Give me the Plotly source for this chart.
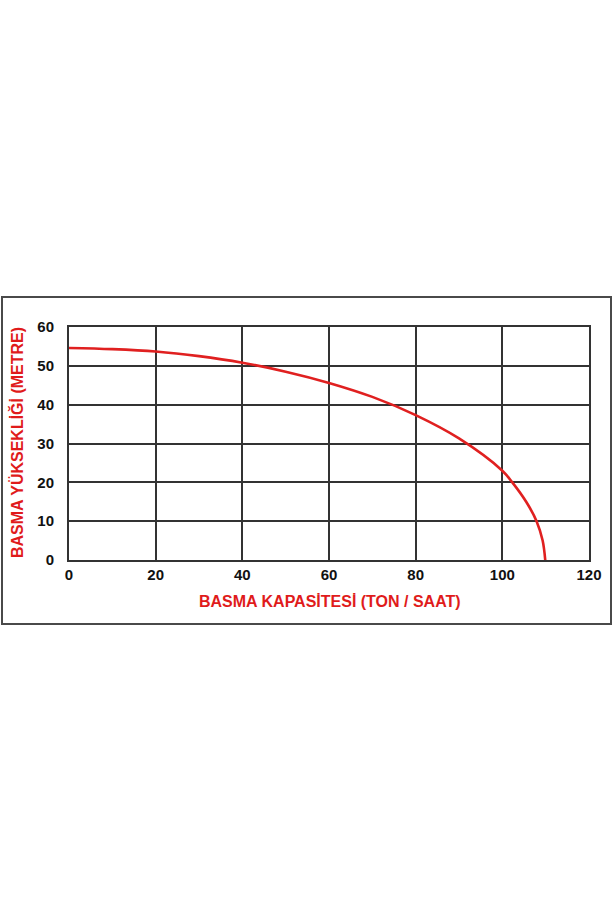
import plotly.graph_objects as go

# Pump curve data
flow = [0, 10, 20, 30, 40, 50, 60, 70, 80, 90, 100, 102.3, 105.5, 107.9, 109.3, 109.9]
head = [54.6, 54.3, 53.7, 52.5, 50.8, 48.5, 45.6, 42.0, 37.3, 31.3, 23.0, 20, 15, 10, 5, 0]

x_ticks = [0, 20, 40, 60, 80, 100, 120]
y_ticks = [0, 10, 20, 30, 40, 50, 60]

x_title = "BASMA KAPASİTESİ (TON / SAAT)"
y_title = "BASMA YÜKSEKLİĞİ (METRE)"

W, H = 613, 920
L, R, T, B = 69, 24, 327, 360
pw = W - L - R
ph = H - T - B

def px_x(px):
    return (px - L) / pw

def px_y(py):
    return (H - B - py) / ph

fig = go.Figure()
fig.add_trace(go.Scatter(
    x=flow, y=head, mode="lines",
    line=dict(color="#e02020", width=2.6, shape="spline", smoothing=1.0),
    hoverinfo="skip", showlegend=False,
))

font_family = "Liberation Sans, Arial, sans-serif"

fig.update_layout(
    width=W, height=H,
    margin=dict(l=L, r=R, t=T, b=B),
    paper_bgcolor="white", plot_bgcolor="white",
    showlegend=False,
    xaxis=dict(
        range=[0, 120], tickvals=x_ticks, ticktext=[str(v) for v in x_ticks],
        showgrid=True, gridcolor="#333333", gridwidth=2,
        showline=True, linecolor="#333333", linewidth=2, mirror=True,
        zeroline=False, ticks="", ticklabelstandoff=0,
        tickfont=dict(family=font_family, size=15, color="#111", weight="bold"),
        fixedrange=True,
    ),
    yaxis=dict(
        range=[0, 60], tickvals=y_ticks, ticktext=[str(v) for v in y_ticks],
        showgrid=True, gridcolor="#333333", gridwidth=2,
        showline=True, linecolor="#333333", linewidth=2, mirror=True,
        zeroline=False, ticks="", ticklabelstandoff=10,
        tickfont=dict(family=font_family, size=15, color="#111", weight="bold"),
        fixedrange=True,
    ),
    shapes=[dict(
        type="rect", xref="paper", yref="paper",
        x0=px_x(2), x1=px_x(611), y0=px_y(624), y1=px_y(297),
        line=dict(color="#4a4a4a", width=2), fillcolor="rgba(0,0,0,0)", layer="below",
    )],
    annotations=[
        dict(text=x_title, xref="paper", yref="paper", x=px_x(330), y=px_y(601),
             showarrow=False, xanchor="center", yanchor="middle",
             font=dict(family=font_family, size=16, color="#e01b1b", weight="bold")),
        dict(text=y_title, xref="paper", yref="paper", x=px_x(17), y=px_y(443),
             showarrow=False, xanchor="center", yanchor="middle", textangle=-90,
             font=dict(family=font_family, size=16, color="#e01b1b", weight="bold")),
    ],
)

fig.write_html(
    "out.html",
    config={"displayModeBar": False, "staticPlot": True},
    post_script="document.body.style.margin='0';document.body.style.overflow='hidden';",
)
